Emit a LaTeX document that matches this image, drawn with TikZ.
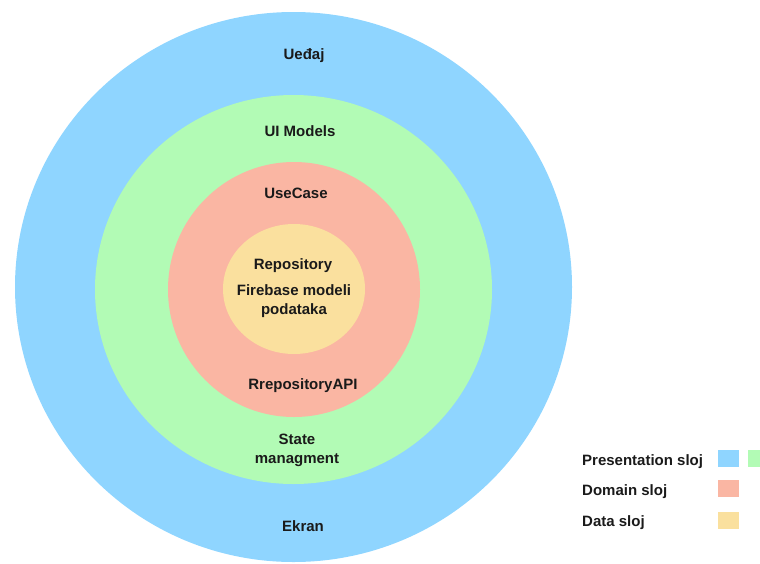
\documentclass[tikz,border=0pt]{standalone}
\usepackage{fontspec}
\setmainfont{Liberation Sans}
\usetikzlibrary{shapes.geometric}
\definecolor{cblue}{HTML}{8FD5FF}
\definecolor{cgreen}{HTML}{B2FBB5}
\definecolor{cred}{HTML}{FAB6A3}
\definecolor{cyellow}{HTML}{FAE09E}
\definecolor{ctext}{HTML}{1A1A1A}
\begin{document}
\begin{tikzpicture}[x=1pt,y=-1pt,
  lbl/.style={font=\fontsize{15}{19}\selectfont\bfseries, text=ctext, align=center, inner sep=0pt},
  leg/.style={font=\fontsize{15}{19}\selectfont\bfseries, text=ctext, anchor=west, inner sep=0pt},
  ring/.style={ellipse, draw=none, inner sep=0pt}]
\useasboundingbox (0,0) rectangle (760,563);
\node[ring, fill=cblue, minimum width=557pt, minimum height=550pt] (outer) at (293.5,287) {};
\node[ring, fill=cgreen, minimum width=397pt, minimum height=389pt] (green) at (293.5,289.5) {};
\node[ring, fill=cred, minimum width=252pt, minimum height=255pt] (red) at (294,289.5) {};
\node[ring, fill=cyellow, minimum width=142pt, minimum height=130pt] (yellow) at (294,289) {};

\node[lbl] (uedaj) at (304,56) {Ueđaj};
\node[lbl] (uimodels) at (300,131) {UI Models};
\node[lbl] (usecase) at (296,193) {UseCase};
\node[lbl] (repo) at (293,266) {Repository};
\node[lbl] (fire) at (294,301.5) {Firebase modeli\\podataka};
\node[lbl] (rapi) at (303,386) {RrepositoryAPI};
\node[lbl] (state) at (297,450.5) {State\\managment};
\node[lbl] (ekran) at (303,526) {Ekran};

\node[leg] (lp) at (582,462) {Presentation sloj};
\node[leg] (ld) at (582,492) {Domain sloj};
\node[leg] (lda) at (582,523) {Data sloj};
\fill[cblue] (718,450) rectangle (739,467);
\fill[cgreen] (748,450) rectangle (760,467);
\fill[cred] (718,480) rectangle (739,497);
\fill[cyellow] (718,512) rectangle (739,529);
\end{tikzpicture}
\end{document}
